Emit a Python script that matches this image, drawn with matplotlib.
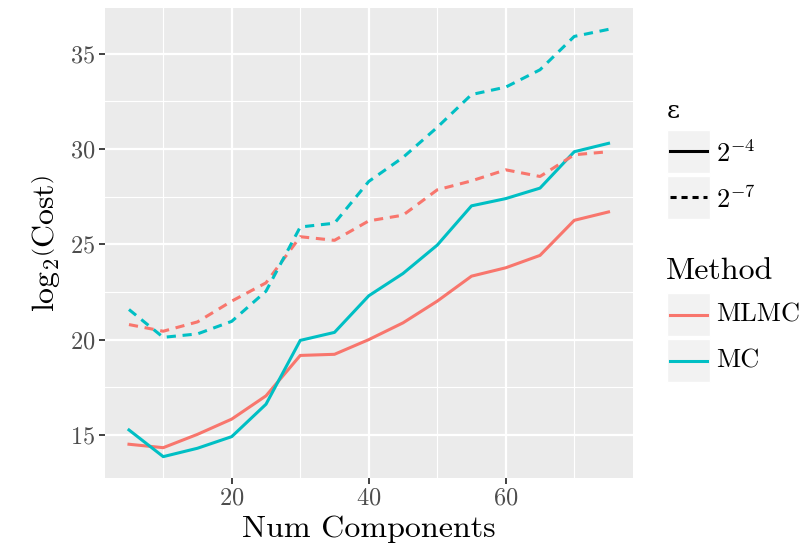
import numpy as np
import matplotlib
matplotlib.use('Agg')
import matplotlib.pyplot as plt
from matplotlib.lines import Line2D
from matplotlib.patches import Rectangle

plt.rcParams['font.family'] = 'cmr10'
plt.rcParams['mathtext.fontset'] = 'cm'
plt.rcParams['axes.formatter.use_mathtext'] = True

# data
num_components = [5, 10, 15, 20, 25, 30, 35, 40, 45, 50, 55, 60, 65, 70, 75]
mlmc_eps4 = [14.51, 14.33, 15.03, 15.83, 17.05, 19.17, 19.23, 20.0, 20.88, 22.02, 23.33, 23.77, 24.42, 26.26, 26.70]
mc_eps4 = [15.26, 13.86, 14.30, 14.91, 16.61, 19.96, 20.38, 22.30, 23.47, 24.96, 27.02, 27.40, 27.95, 29.86, 30.30]
mlmc_eps7 = [20.79, 20.44, 20.93, 22.02, 22.98, 25.40, 25.21, 26.23, 26.53, 27.86, 28.33, 28.91, 28.56, 29.70, 29.86]
mc_eps7 = [21.58, 20.12, 20.30, 20.96, 22.54, 25.91, 26.11, 28.30, 29.56, 31.14, 32.86, 33.25, 34.16, 35.91, 36.28]

methods = ['MLMC', 'MC']
colors = {'MLMC': '#F8766D', 'MC': '#00BFC4'}
eps_labels = [r'$2^{-4}$', r'$2^{-7}$']
dash = (3, 2.2)

fig = plt.figure(figsize=(8.02, 5.51), dpi=100)
ax = fig.add_axes([105 / 802, 73 / 551, 527.5 / 802, 470 / 551])
ax.set_facecolor('#EBEBEB')

ax.plot(num_components, mlmc_eps4, color=colors['MLMC'], lw=2.2)
ax.plot(num_components, mc_eps4, color=colors['MC'], lw=2.2)
ax.plot(num_components, mlmc_eps7, color=colors['MLMC'], lw=2.2, dashes=dash)
ax.plot(num_components, mc_eps7, color=colors['MC'], lw=2.2, dashes=dash)

allv = np.concatenate([mlmc_eps4, mc_eps4, mlmc_eps7, mc_eps7])
lo, hi = allv.min(), allv.max()
pad = 0.05 * (hi - lo)
ax.set_ylim(lo - pad, hi + pad)
xpad = 0.05 * (max(num_components) - min(num_components))
ax.set_xlim(min(num_components) - xpad, max(num_components) + xpad)

ax.set_xticks([20, 40, 60])
ax.set_yticks([15, 20, 25, 30, 35])
ax.set_xticks([10, 30, 50, 70], minor=True)
ax.set_yticks([17.5, 22.5, 27.5, 32.5], minor=True)
ax.grid(True, which='major', color='white', lw=1.6)
ax.grid(True, which='minor', color='white', lw=0.8)
ax.set_axisbelow(True)
for s in ax.spines.values():
    s.set_visible(False)
ax.tick_params(which='major', length=4, width=1.3, color='#333333',
               labelcolor='#4D4D4D', labelsize=17.5, pad=3)
ax.tick_params(which='minor', length=0)

ax.set_xlabel('Num Components', fontsize=23, labelpad=4)
ax.set_ylabel(r'$\mathrm{log}_2\left(\mathrm{Cost}\right)$', fontsize=23, labelpad=6)

# legends drawn by hand to get ggplot style key boxes
def key(y_top, color, ls):
    fig.patches.append(Rectangle((667 / 802, 1 - (y_top + 43) / 551), 43 / 802, 43 / 551,
                                 transform=fig.transFigure, facecolor='#F2F2F2',
                                 edgecolor='white', lw=1))
    yc = 1 - (y_top + 21.5) / 551
    ln = Line2D([670 / 802, 707 / 802], [yc, yc], transform=fig.transFigure,
                color=color, lw=2.2)
    if ls == 'dashed':
        ln.set_dashes((2, 1.6))
    fig.lines.append(ln)

fig.text(667 / 802, 1 - 112 / 551, 'ε', fontsize=18, va='center', ha='left',
         family='DejaVu Serif')
for i, lab in enumerate(eps_labels):
    top = 130 + i * 46
    key(top, 'black', 'solid' if i == 0 else 'dashed')
    fig.text(716 / 802, 1 - (top + 24) / 551, lab, fontsize=19, va='center', ha='left')

fig.text(666 / 802, 1 - 271 / 551, 'Method', fontsize=23, va='center', ha='left')
for i, m in enumerate(methods):
    top = 293 + i * 46
    key(top, colors[m], 'solid')
    fig.text(716 / 802, 1 - (top + 22) / 551, m, fontsize=19, va='center', ha='left')

fig.savefig('out.png', dpi=100)
